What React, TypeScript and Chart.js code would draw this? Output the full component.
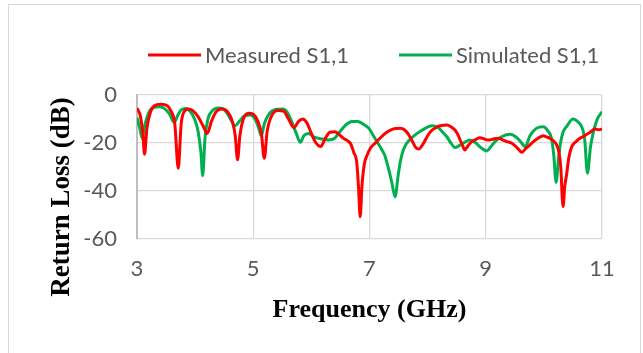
import { useEffect, useRef } from "react";
import { Chart, registerables } from "chart.js";

Chart.register(...registerables);

const seriesNames = ["Measured S1,1", "Simulated S1,1"];
const xTitle = "Frequency (GHz)";
const yTitle = "Return Loss (dB)";
const xMin = 3;
const xMax = 11;
const xStep = 2;
const yMin = -60;
const yMax = 0;
const yStep = 20;

const measuredFreq = [
  3.0, 3.06, 3.1, 3.13, 3.17, 3.22, 3.3, 3.4, 3.5, 3.58, 3.65, 3.71, 3.76, 3.81, 3.88, 3.96,
  4.05, 4.14, 4.21, 4.28, 4.36, 4.46, 4.56, 4.64, 4.69, 4.73, 4.77, 4.83, 4.92, 5.0, 5.08,
  5.14, 5.19, 5.24, 5.32, 5.42, 5.52, 5.6, 5.7, 5.78, 5.85, 5.92, 6.0, 6.08, 6.16, 6.24, 6.32,
  6.4, 6.48, 6.55, 6.62, 6.68, 6.73, 6.78, 6.81, 6.84, 6.87, 6.91, 6.96, 7.02, 7.1, 7.18, 7.27,
  7.36, 7.45, 7.53, 7.6, 7.67, 7.73, 7.8, 7.85, 7.92, 8.0, 8.06, 8.15, 8.22, 8.33, 8.4, 8.47,
  8.52, 8.56, 8.6, 8.64, 8.7, 8.76, 8.83, 8.9, 8.97, 9.04, 9.12, 9.22, 9.3, 9.36, 9.44, 9.5,
  9.56, 9.62, 9.68, 9.75, 9.82, 9.9, 9.99, 10.05, 10.1, 10.16, 10.22, 10.26, 10.29, 10.33,
  10.36, 10.39, 10.43, 10.48, 10.55, 10.62, 10.7, 10.79, 10.88, 10.94, 11.0,
];
const measuredLoss = [
  -5.5, -9, -16, -24.7, -14, -8, -4.5, -3.9, -4.2, -6.5, -12, -30.5, -12, -7, -5.8, -6.5,
  -9, -13, -16, -11, -7, -5.8, -7, -11, -17, -27, -17, -10, -7.6, -8, -11,
  -16, -26.4, -15, -8.5, -6.5, -6.7, -9.7, -13.6, -11, -10, -11.5, -16, -20, -21.5, -18, -15.5,
  -15.3, -16.5, -18, -19, -20.5, -24, -28, -38, -50.7, -38, -29, -25, -22, -20, -18, -16,
  -14.6, -14, -13.9, -14.5, -16.4, -19, -22, -22.5, -20.5, -17, -15, -13.5, -12.8, -12.5, -13.2, -14.6,
  -16.5, -18.8, -21, -22.9, -21, -19.4, -18.5, -17.8, -18.3, -18.8, -18.4, -18, -18.8, -19.4, -20, -21.1,
  -22.5, -23.9, -22.5, -21, -19.4, -18, -17, -17.5, -18, -19, -20.8, -24, -30, -46.5,
  -38, -33.3, -26, -21.5, -19.5, -18, -17, -15.6, -14.2, -14.5, -14.2,
];

const simulatedFreq = [
  3.0, 3.05, 3.09, 3.13, 3.2, 3.28, 3.38, 3.48, 3.56, 3.64, 3.7, 3.76, 3.84, 3.92, 3.99, 4.05,
  4.1, 4.13, 4.17, 4.22, 4.3, 4.4, 4.47, 4.56, 4.63, 4.69, 4.76, 4.85, 4.95, 5.03, 5.09, 5.14,
  5.19, 5.27, 5.38, 5.5, 5.58, 5.66, 5.74, 5.81, 5.87, 5.95, 6.05, 6.18, 6.3, 6.4, 6.5, 6.6,
  6.7, 6.8, 6.9, 6.99, 7.08, 7.18, 7.26, 7.32, 7.38, 7.44, 7.49, 7.53, 7.58, 7.64, 7.72, 7.82,
  7.95, 8.07, 8.18, 8.26, 8.33, 8.4, 8.47, 8.55, 8.65, 8.73, 8.82, 8.92, 9.02, 9.09, 9.16, 9.28,
  9.42, 9.52, 9.6, 9.68, 9.76, 9.87, 9.99, 10.07, 10.13, 10.17, 10.21, 10.25, 10.28, 10.33,
  10.39, 10.5, 10.6, 10.65, 10.7, 10.75, 10.8, 10.84, 10.92, 11.0,
];
const simulatedLoss = [
  -9.4, -14, -18, -13, -7.5, -5.2, -4.9, -5.8, -8, -11.4, -8.5, -6.2, -5.6, -7, -10, -15,
  -24, -33.6, -18, -10, -6.5, -5.4, -5.6, -8, -11, -12.8, -11, -8.7, -8.3, -10, -13.5, -17,
  -12, -8, -6, -5.8, -7, -11, -16, -19.7, -17, -16, -17.5, -18.3, -18.7, -18, -15, -12.3,
  -11, -11, -12.3, -13.9, -17.5, -21.5, -25, -30, -36, -42.4, -34, -27.8, -23, -20.1, -18, -16,
  -14, -12.8, -13.5, -15.5, -17.4, -20, -21.9, -21, -19.5, -18.75, -19.8, -22, -23.3, -21.5, -19.4, -17.3,
  -16.4, -17.5, -19.5, -21.5, -17, -13.9, -13.2, -15, -18, -25, -36.4, -27, -20.8, -15.5,
  -13.2, -10, -11.5, -13.2, -18, -32.6, -22, -16.7, -10, -7,
];

const toPoints = (xs: number[], ys: number[]) => xs.map((x, i) => ({ x, y: ys[i] }));

const labelFont = "Lato";

const customLegend = {
  id: "customLegend",
  afterDraw(chart: any) {
    const ctx = chart.ctx;
    const area = chart.chartArea;
    ctx.save();
    ctx.font = `22px ${labelFont}`;
    ctx.textBaseline = "middle";
    ctx.textAlign = "left";
    let x = area.left + 11;
    const y = area.top - 40;
    chart.data.datasets.forEach((ds: any) => {
      ctx.strokeStyle = ds.borderColor;
      ctx.lineWidth = 3;
      ctx.beginPath();
      ctx.moveTo(x, y);
      ctx.lineTo(x + 53, y);
      ctx.stroke();
      x += 57;
      ctx.fillStyle = "#595959";
      ctx.fillText(ds.label, x, y + 1);
      x += ctx.measureText(ds.label).width + 50;
    });
    ctx.restore();
  },
};

const yTitlePlugin = {
  id: "yTitlePlugin",
  afterDraw(chart: any) {
    const ctx = chart.ctx;
    const area = chart.chartArea;
    ctx.save();
    ctx.translate(area.left - 75, area.bottom - 42);
    ctx.rotate(-Math.PI / 2);
    ctx.font = 'bold 27px "Liberation Serif"';
    ctx.fillStyle = "#000000";
    ctx.textAlign = "center";
    ctx.textBaseline = "middle";
    ctx.fillText(yTitle, 0, 0);
    ctx.restore();
  },
};

export default function App() {
  const canvasRef = useRef<HTMLCanvasElement | null>(null);

  useEffect(() => {
    if (!canvasRef.current) return;
    const chart = new Chart(canvasRef.current, {
      type: "line",
      data: {
        datasets: [
          {
            label: seriesNames[0],
            data: toPoints(measuredFreq, measuredLoss),
            borderColor: "#ff0000",
            backgroundColor: "#ff0000",
            borderWidth: 3,
            pointRadius: 0,
            cubicInterpolationMode: "monotone",
          },
          {
            label: seriesNames[1],
            data: toPoints(simulatedFreq, simulatedLoss),
            borderColor: "#00b050",
            backgroundColor: "#00b050",
            borderWidth: 3,
            pointRadius: 0,
            cubicInterpolationMode: "monotone",
          },
        ],
      },
      options: {
        animation: false,
        responsive: false,
        maintainAspectRatio: false,
        layout: { padding: { left: 33, right: 39, top: 90, bottom: 23 } },
        plugins: {
          legend: { display: false },
          tooltip: { enabled: false },
        },
        scales: {
          x: {
            type: "linear",
            min: xMin,
            max: xMax,
            ticks: {
              stepSize: xStep,
              color: "#595959",
              font: { family: labelFont, size: 22 },
              padding: 17,
              maxRotation: 0,
            },
            grid: { color: "#d9d9d9", lineWidth: 1.3, drawTicks: false },
            border: { display: false },
            title: {
              display: true,
              text: xTitle,
              color: "#000000",
              font: { family: "Liberation Serif", size: 26, weight: "bold" },
              padding: { top: 4, bottom: 4 },
            },
            afterFit: (s: any) => {
              s.height = 91;
            },
          },
          y: {
            min: yMin,
            max: yMax,
            ticks: {
              stepSize: yStep,
              color: "#595959",
              font: { family: labelFont, size: 22 },
              padding: 20,
            },
            grid: { color: "#d9d9d9", lineWidth: 1.3, drawTicks: false },
            border: { display: true, color: "#bfbfbf", width: 2 },
            afterFit: (s: any) => {
              s.width = 95;
            },
          },
        },
      },
      plugins: [customLegend, yTitlePlugin],
    });
    return () => chart.destroy();
  }, []);

  return (
    <div
      style={{
        position: "absolute",
        left: 8,
        top: 4,
        width: 633,
        height: 360,
        border: "1px solid #d9d9d9",
        background: "#ffffff",
        boxSizing: "border-box",
        overflow: "hidden",
      }}
    >
      <canvas ref={canvasRef} width={632} height={348} style={{ display: "block", width: 632, height: 348 }} />
    </div>
  );
}
